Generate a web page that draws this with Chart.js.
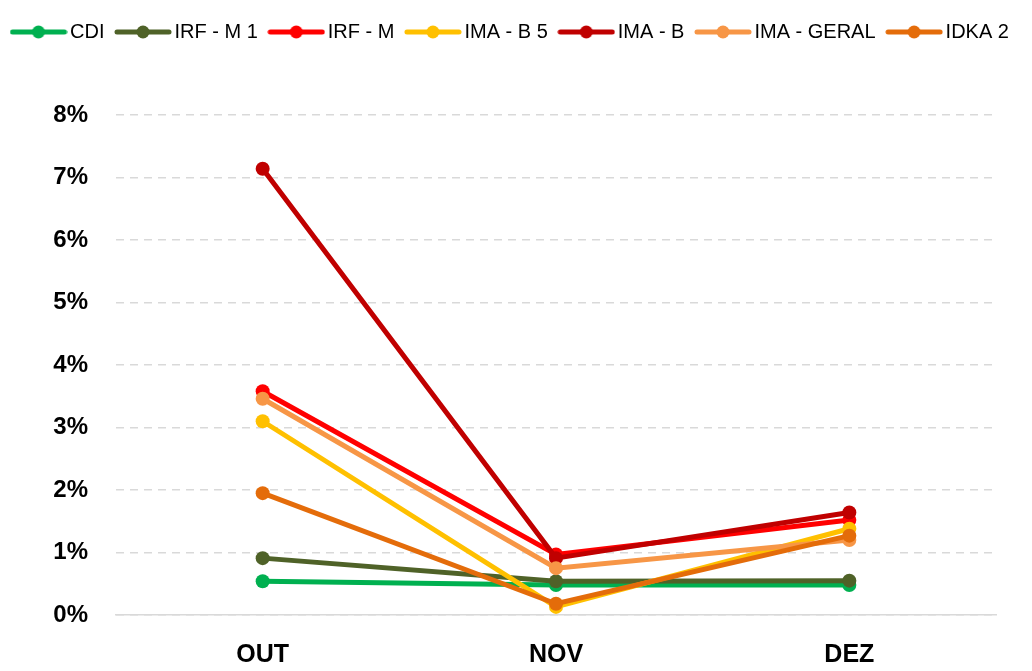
<!DOCTYPE html>
<html>
<head>
<meta charset="utf-8">
<script src="https://cdn.jsdelivr.net/npm/chart.js@4/dist/chart.umd.min.js"></script>
<style>
html,body{margin:0;padding:0;background:#fff;}
#wrap{width:1032px;height:671px;position:relative;}
</style>
</head>
<body>
<div id="wrap"><canvas id="c" width="1032" height="671"></canvas></div>
<script>
const categories = ['OUT', 'NOV', 'DEZ'];
const seriesNames = ['CDI', 'IRF - M 1', 'IRF - M', 'IMA - B 5', 'IMA - B', 'IMA - GERAL', 'IDKA 2'];
const cdi      = [0.54, 0.48, 0.48];
const irfm1    = [0.91, 0.54, 0.55];
const irfm     = [3.58, 0.97, 1.52];
const imab5    = [3.10, 0.13, 1.38];
const imab     = [7.14, 0.91, 1.64];
const imaGeral = [3.46, 0.75, 1.20];
const idka2    = [1.95, 0.18, 1.27];
const seriesColors = ['#00B050', '#4F6228', '#FF0000', '#FFC000', '#C00000', '#F79646', '#E46C0A'];
const yTicks = [0, 1, 2, 3, 4, 5, 6, 7, 8];

const seriesValues = [cdi, irfm1, irfm, imab5, imab, imaGeral, idka2];

function legendIcon(color) {
  const cv = document.createElement('canvas');
  cv.width = 58; cv.height = 16;
  const g = cv.getContext('2d');
  g.strokeStyle = color; g.lineWidth = 5; g.lineCap = 'round';
  g.beginPath(); g.moveTo(3, 8); g.lineTo(55, 8); g.stroke();
  g.fillStyle = color;
  g.beginPath(); g.arc(29, 8, 6.5, 0, Math.PI * 2); g.fill();
  return cv;
}

const datasets = seriesNames.map((name, i) => ({
  label: name,
  data: seriesValues[i],
  borderColor: seriesColors[i],
  backgroundColor: seriesColors[i],
  borderWidth: 5,
  pointRadius: 7,
  pointHoverRadius: 7,
  pointBorderWidth: 0,
  tension: 0,
  order: seriesNames.length - i
}));

const legendHeightPlugin = {
  id: 'legendHeight',
  beforeInit(chart) {
    const orig = chart.legend.fit;
    chart.legend.fit = function () {
      orig.bind(chart.legend)();
      this.height = 110;
    };
  }
};

Chart.defaults.font.family = '"Liberation Sans", Arial, sans-serif';

new Chart(document.getElementById('c'), {
  type: 'line',
  data: { labels: categories, datasets },
  plugins: [legendHeightPlugin],
  options: {
    responsive: false,
    animation: false,
    layout: { padding: { top: 5, right: 0, left: 0, bottom: 0 } },
    plugins: {
      tooltip: { enabled: false },
      legend: {
        position: 'top',
        align: 'start',
        labels: {
          usePointStyle: true,
          pointStyleWidth: 43,
          padding: 17,
          color: '#1a1a1a',
          font: { size: 20 },
          generateLabels(chart) {
            return chart.data.datasets.map((ds, i) => ({
              text: ds.label,
              fillStyle: ds.borderColor,
              strokeStyle: ds.borderColor,
              lineWidth: 0,
              pointStyle: legendIcon(ds.borderColor),
              hidden: false,
              datasetIndex: i
            }));
          }
        }
      }
    },
    scales: {
      x: {
        offset: true,
        grid: { display: false, drawTicks: false },
        border: { display: true, color: '#d9d9d9', width: 1.5 },
        ticks: { padding: 25, color: '#000', font: { size: 25, weight: 'bold' } },
        afterFit(scale) { scale.height = 56; }
      },
      y: {
        min: 0, max: 8,
        afterBuildTicks(scale) { scale.ticks = yTicks.map(v => ({ value: v })); },
        grid: { color: '#d9d9d9', lineWidth: 1.5, drawTicks: false },
        border: { display: false, dash: [8, 6] },
        ticks: {
          padding: 28,
          color: '#000',
          font: { size: 24, weight: 'bold' },
          callback: v => v + '%'
        },
        afterFit(scale) { scale.width = 116; }
      },
      yRight: {
        position: 'right',
        min: 0, max: 8,
        grid: { display: false, drawTicks: false },
        border: { display: false },
        ticks: { display: false },
        afterFit(scale) { scale.width = 36; }
      }
    }
  }
});
</script>
</body>
</html>
